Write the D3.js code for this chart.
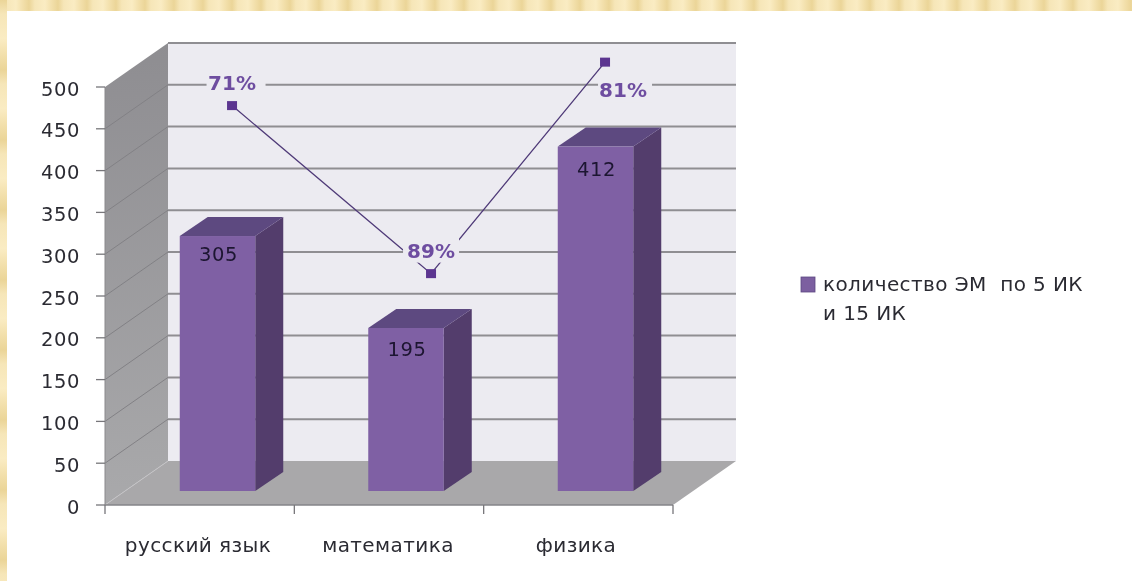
<!DOCTYPE html>
<html><head><meta charset="utf-8">
<script src="https://cdn.jsdelivr.net/npm/d3@7"></script>
<style>html,body{margin:0;padding:0;background:#fff}svg{display:block}text{font-family:"DejaVu Sans",sans-serif;white-space:pre}</style>
</head><body><svg id="c" width="1132" height="581"></svg>
<script>
const categories = ["русский язык","математика","физика"];
const barValues = [305,195,412];
const yTicks = [0,50,100,150,200,250,300,350,400,450,500];
const lineValues = [461,260,513];
const linePositions = [0.671,1.722,2.641];
const percentLabels = ["71%","89%","81%"];
const labelPlacement = [[0,-23],[0,-23],[18,28]];
const haloPlacement = [[4,59],[0,56],[20,54]];
const barLabelDy = [25,28,29];
const legendLines = ["количество ЭМ  по 5 ИК","и 15 ИК"];

const svg = d3.select("#c");
const W=1132,H=581;
const defs = svg.append("defs");
const blur = defs.append("filter").attr("id","soft").attr("x","-5%").attr("y","-5%").attr("width","110%").attr("height","110%");
blur.append("feGaussianBlur").attr("stdDeviation",0.5);
function stripes(id,x2,y2,len){
  const g=defs.append("linearGradient").attr("id",id).attr("gradientUnits","userSpaceOnUse")
    .attr("x1",0).attr("y1",0).attr("x2",x2*len).attr("y2",y2*len).attr("spreadMethod","repeat");
  [[0,"#ebd598"],[.2,"#f6e6b8"],[.55,"#faecc3"],[.8,"#f2dfaa"],[1,"#ebd598"]].forEach(s=>g.append("stop").attr("offset",s[0]).attr("stop-color",s[1]));
}
stripes("topStripe",1,0,29); stripes("leftStripe",0,1,70);
const side=defs.append("linearGradient").attr("id","sideWall").attr("x1",0).attr("y1",0).attr("x2",0).attr("y2",1);
side.append("stop").attr("offset",0).attr("stop-color","#8e8d91");
side.append("stop").attr("offset",1).attr("stop-color","#a9a9ab");

svg.append("rect").attr("width",W).attr("height",H).attr("fill","#fff");
svg.append("rect").attr("width",W).attr("height",11).attr("fill","url(#topStripe)");
svg.append("rect").attr("width",7).attr("height",H).attr("fill","url(#leftStripe)");

const root = svg.append("g").attr("filter","url(#soft)");
const frontLeft=105, frontRight=673, frontZero=505, frontTop=87, depthX=63, depthY=-44;
const y = d3.scaleLinear().domain([0,500]).range([frontZero,frontTop]);
const x = d3.scaleLinear().domain([0,3]).range([frontLeft,frontRight]);
const barBase = frontZero-14;
const yBar = v => y(v)-(frontZero-barBase);
const barDepthX=28, barDepthY=-19;
const barWidth = 75.5;
const barCentres = [217.5,406,595.5].map(p=>x.invert(p));
const line = d3.line();
const poly = pts => line(pts)+"Z";

root.append("path").attr("d",poly([[frontLeft+depthX,y(500)+depthY],[frontRight+depthX,y(500)+depthY],[frontRight+depthX,y(0)+depthY],[frontLeft+depthX,y(0)+depthY]])).attr("fill","#ecebf1");
root.append("line").attr("x1",frontLeft+depthX).attr("x2",frontRight+depthX).attr("y1",y(500)+depthY).attr("y2",y(500)+depthY).attr("stroke","#8f8e92").attr("stroke-width",1.5);
root.append("path").attr("d",poly([[frontLeft,y(500)],[frontLeft+depthX,y(500)+depthY],[frontLeft+depthX,y(0)+depthY],[frontLeft,y(0)]])).attr("fill","url(#sideWall)");
root.append("path").attr("d",poly([[frontLeft,y(0)],[frontRight,y(0)],[frontRight+depthX,y(0)+depthY],[frontLeft+depthX,y(0)+depthY]])).attr("fill","#a9a8aa");
yTicks.filter(t=>t>0).forEach(t=>{
  root.append("line").attr("x1",frontLeft+depthX).attr("x2",frontRight+depthX).attr("y1",y(t)+depthY).attr("y2",y(t)+depthY).attr("stroke","#8f8e92").attr("stroke-width",2);
  if(t<500) root.append("line").attr("x1",frontLeft).attr("x2",frontLeft+depthX).attr("y1",y(t)).attr("y2",y(t)+depthY).attr("stroke","#828185").attr("stroke-width",1);
});
root.append("line").attr("x1",frontLeft).attr("x2",frontLeft+depthX).attr("y1",y(0)).attr("y2",y(0)+depthY).attr("stroke","#c4c3c6").attr("stroke-width",1);
root.append("line").attr("x1",frontLeft).attr("x2",frontLeft).attr("y1",y(500)).attr("y2",y(0)).attr("stroke","#8a898c").attr("stroke-width",1);
root.append("line").attr("x1",frontLeft).attr("x2",frontRight).attr("y1",y(0)).attr("y2",y(0)).attr("stroke","#858488").attr("stroke-width",1.5);
yTicks.forEach(t=>{
  root.append("line").attr("x1",frontLeft-9).attr("x2",frontLeft).attr("y1",y(t)).attr("y2",y(t)).attr("stroke","#77767a").attr("stroke-width",1.3);
  root.append("text").attr("x",80).attr("y",y(t)+8.5).attr("text-anchor","end").attr("font-size",19.5).attr("letter-spacing",0.6).attr("fill","#2c2c33").text(t);
});
d3.range(0,4).forEach(i=>{
  root.append("line").attr("x1",x(i)).attr("x2",x(i)).attr("y1",y(0)).attr("y2",y(0)+9).attr("stroke","#77767a").attr("stroke-width",1.3);
});
const catX=[198,388,576];
categories.forEach((c,i)=>{
  root.append("text").attr("x",catX[i]).attr("y",552).attr("text-anchor","middle").attr("font-size",20).attr("letter-spacing",0.4).attr("fill","#2c2c33").text(c);
});
barValues.forEach((v,i)=>{
  const l=x(barCentres[i])-barWidth/2, r=l+barWidth, t=yBar(v), b=yBar(0);
  root.append("path").attr("d",poly([[r,t],[r+barDepthX,t+barDepthY],[r+barDepthX,b+barDepthY],[r,b]])).attr("fill","#523d6c");
  root.append("path").attr("d",poly([[l,t],[l+barDepthX,t+barDepthY],[r+barDepthX,t+barDepthY],[r,t]])).attr("fill","#5d4880");
  root.append("rect").attr("x",l).attr("y",t).attr("width",barWidth).attr("height",b-t).attr("fill","#7f61a4");
  root.append("text").attr("x",l+barWidth/2+1).attr("y",t+barLabelDy[i]).attr("text-anchor","middle").attr("font-size",19.5).attr("letter-spacing",0.6).attr("fill","#1d1530").text(v);
});
const linePts = lineValues.map((v,i)=>[x(linePositions[i]),yBar(v)]);
root.append("path").attr("d",line(linePts)).attr("fill","none").attr("stroke","#4f3a78").attr("stroke-width",1.3);
linePts.forEach(p=>{
  root.append("rect").attr("x",p[0]-5).attr("y",p[1]-4.5).attr("width",10).attr("height",9).attr("fill","#5b3590");
});
percentLabels.forEach((s,i)=>{
  const lx=linePts[i][0]+labelPlacement[i][0], ly=linePts[i][1]+labelPlacement[i][1];
  const hx=linePts[i][0]+haloPlacement[i][0], hw=haloPlacement[i][1];
  root.append("rect").attr("x",hx-hw/2).attr("y",ly-13).attr("width",hw).attr("height",25).attr("fill","#ecebf1");
  root.append("text").attr("x",lx).attr("y",ly+7).attr("text-anchor","middle").attr("font-size",20).attr("font-weight",700).attr("fill","#6e4ea0").text(s);
});
root.append("rect").attr("x",801).attr("y",277).attr("width",14).attr("height",15).attr("fill","#7b5fa0").attr("stroke","#5d4880").attr("stroke-width",0.8);
legendLines.forEach((s,i)=>{
  root.append("text").attr("x",823).attr("y",291+i*29).attr("font-size",20).attr("letter-spacing",0.4).attr("fill","#2c2c33").text(s);
});
</script></body></html>
